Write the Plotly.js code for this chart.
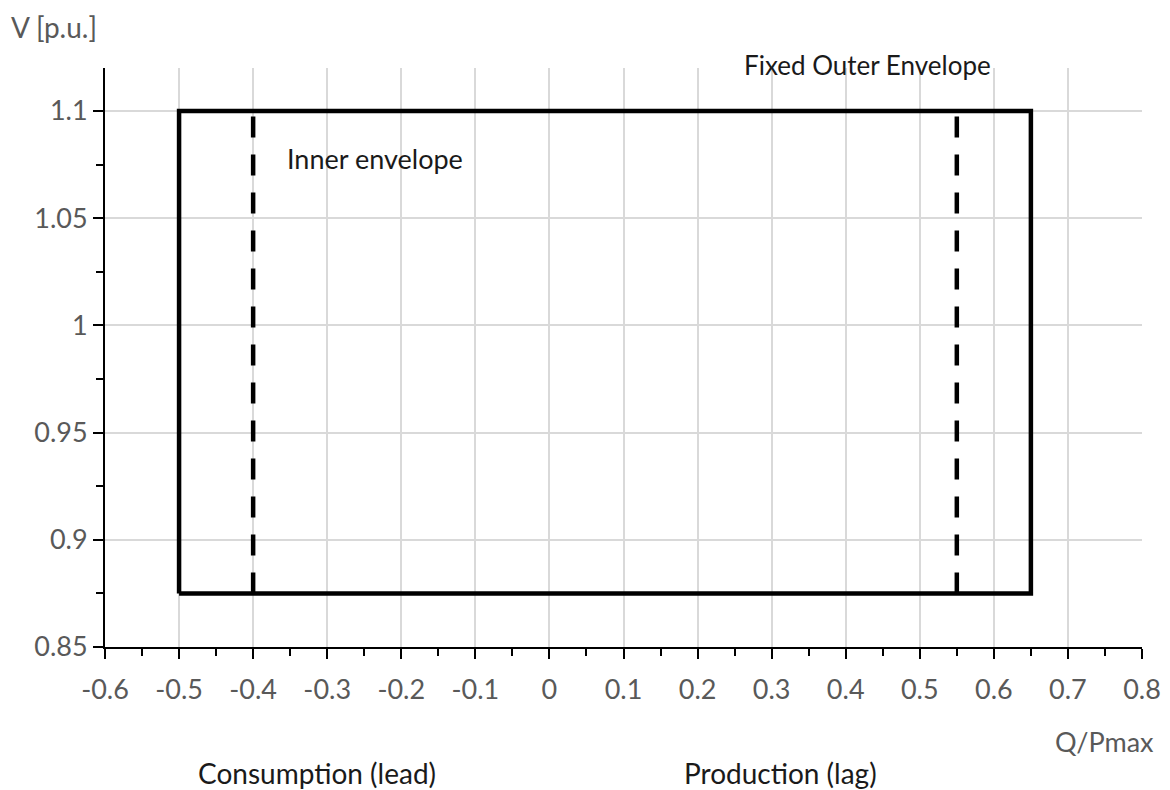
<!DOCTYPE html>
<html>
<head>
<meta charset="utf-8">
<script src="https://cdn.plot.ly/plotly-3.0.1.min.js"></script>
<style>
  html, body { margin: 0; padding: 0; background: #ffffff; }
  #chart { width: 1170px; height: 790px; }
</style>
</head>
<body>
<div id="chart"></div>
<script>
// ---- Data ----
const outerQ = [-0.5, 0.65, 0.65, -0.5, -0.5];
const outerV = [0.875, 0.875, 1.1, 1.1, 0.875];
const innerLeftQ = [-0.4, -0.4];
const innerLeftV = [0.875, 1.1];
const innerRightQ = [0.55, 0.55];
const innerRightV = [0.875, 1.1];
const xTickVals = [-0.6, -0.5, -0.4, -0.3, -0.2, -0.1, 0, 0.1, 0.2, 0.3, 0.4, 0.5, 0.6, 0.7, 0.8];
const xTickLabels = ["-0.6", "-0.5", "-0.4", "-0.3", "-0.2", "-0.1", "0", "0.1", "0.2", "0.3", "0.4", "0.5", "0.6", "0.7", "0.8"];
const yTickVals = [0.85, 0.9, 0.95, 1.0, 1.05, 1.1];
const yTickLabels = ["0.85", "0.9", "0.95", "1", "1.05", "1.1"];
const xRange = [-0.6, 0.8];
const yRange = [0.85, 1.12];

const FONT = 'Lato, "Open Sans", sans-serif';
const GREY = '#595959';
const INK = '#1a1a1a';

const traces = [
  {
    x: outerQ, y: outerV, type: 'scatter', mode: 'lines',
    line: { color: '#000000', width: 4.5 },
    hoverinfo: 'skip', showlegend: false, cliponaxis: false
  },
  {
    x: innerLeftQ, y: innerLeftV, type: 'scatter', mode: 'lines',
    line: { color: '#000000', width: 4.5, dash: '21px,17px' },
    hoverinfo: 'skip', showlegend: false
  },
  {
    x: innerRightQ, y: innerRightV, type: 'scatter', mode: 'lines',
    line: { color: '#000000', width: 4.5, dash: '21px,17px' },
    hoverinfo: 'skip', showlegend: false
  }
];

const layout = {
  width: 1170, height: 790,
  margin: { l: 105, r: 28, t: 68, b: 143 },
  paper_bgcolor: '#ffffff', plot_bgcolor: '#ffffff',
  font: { family: FONT, color: GREY, size: 27 },
  showlegend: false,
  xaxis: {
    range: xRange, tickmode: 'array', tickvals: xTickVals, ticktext: xTickLabels,
    showgrid: true, gridcolor: '#d9d9d9', gridwidth: 2,
    zeroline: false, showline: true, linecolor: '#000000', linewidth: 2,
    ticks: 'outside', ticklen: 10, tickwidth: 2, tickcolor: '#000000',
    ticklabelstandoff: 8,
    minor: { dtick: 0.05, tick0: 0, ticks: 'outside', ticklen: 7, tickwidth: 2, tickcolor: '#000000', showgrid: false },
    tickfont: { family: FONT, size: 27, color: GREY },
    fixedrange: true
  },
  yaxis: {
    range: yRange, tickmode: 'array', tickvals: yTickVals, ticktext: yTickLabels,
    showgrid: true, gridcolor: '#d9d9d9', gridwidth: 2,
    zeroline: false, showline: true, linecolor: '#000000', linewidth: 2,
    ticks: 'outside', ticklen: 10, tickwidth: 2, tickcolor: '#000000',
    minor: { dtick: 0.025, tick0: 0.85, ticks: 'outside', ticklen: 7, tickwidth: 2, tickcolor: '#000000', showgrid: false },
    tickfont: { family: FONT, size: 27, color: GREY },
    fixedrange: true
  },
  annotations: [
    { text: 'V [p.u.]', xref: 'paper', yref: 'paper', x: -0.093, y: 1.071,
      xanchor: 'left', yanchor: 'middle', showarrow: false,
      font: { family: FONT, size: 28, color: GREY } },
    { text: 'Q/Pmax', xref: 'paper', yref: 'paper', x: 1.0135, y: -0.164,
      xanchor: 'right', yanchor: 'middle', showarrow: false,
      font: { family: FONT, size: 27, color: GREY } },
    { text: 'Fixed Outer Envelope', xref: 'x', yref: 'paper', x: 0.43, y: 1.005,
      xanchor: 'center', yanchor: 'middle', showarrow: false,
      font: { family: FONT, size: 26, color: INK } },
    { text: 'Inner envelope', xref: 'x', yref: 'y', x: -0.357, y: 1.078,
      xanchor: 'left', yanchor: 'middle', showarrow: false,
      font: { family: FONT, size: 27, color: INK } },
    { text: 'Consumption (lead)', xref: 'paper', yref: 'paper', x: 0.2044, y: -0.2176,
      xanchor: 'center', yanchor: 'middle', showarrow: false,
      font: { family: FONT, size: 28, color: INK } },
    { text: 'Production (lag)', xref: 'paper', yref: 'paper', x: 0.651, y: -0.2176,
      xanchor: 'center', yanchor: 'middle', showarrow: false,
      font: { family: FONT, size: 28, color: INK } }
  ]
};

Plotly.newPlot('chart', traces, layout, { displayModeBar: false, staticPlot: true });
</script>
</body>
</html>
